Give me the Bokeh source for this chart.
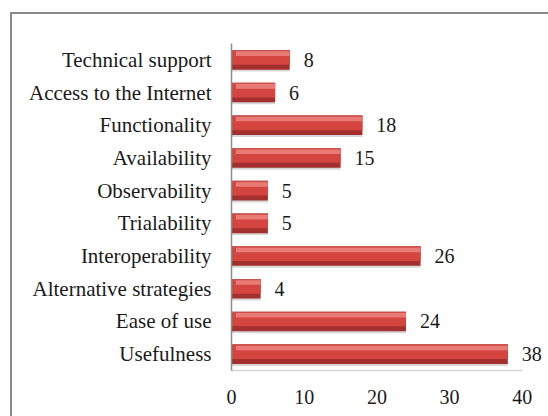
from bokeh.plotting import figure
from bokeh.models import FactorRange, Range1d, ColumnDataSource, FixedTicker
from bokeh.transform import dodge
from bokeh.core.properties import value
from bokeh.embed import file_html
from bokeh.resources import INLINE

# Data (bottom to top)
categories = ["Usefulness", "Ease of use", "Alternative strategies", "Interoperability",
              "Trialability", "Observability", "Availability", "Functionality",
              "Access to the Internet", "Technical support"]
counts = [38, 24, 4, 26, 5, 5, 15, 18, 6, 8]
x_ticks = [0, 10, 20, 30, 40]

FONT = "Liberation Serif"

src = ColumnDataSource(dict(cat=categories, val=counts, lab=[str(v) for v in counts]))

p = figure(width=548, height=416, y_range=FactorRange(*categories), x_range=Range1d(0, 43.6),
           output_backend="svg", toolbar_location=None,
           min_border_left=231, min_border_right=0, min_border_top=43, min_border_bottom=46)

p.outline_line_color = None
p.xgrid.grid_line_color = None
p.ygrid.grid_line_color = None
p.background_fill_color = None
p.border_fill_color = None
g = "linear-gradient(#8a8a8a,#8a8a8a)"
p.styles = {"background": f"{g} 10px 12px / 2px 100% no-repeat, {g} 10px 12px / 100% 2px no-repeat, white"}

# shadow
p.hbar(y=dodge("cat", -0.06, range=p.y_range), left=0, right="val", height=0.6, source=src,
       fill_color="#777777", fill_alpha=0.3, line_color=None)
# base (dark)
p.hbar(y="cat", left=0, right="val", height=0.6, source=src,
       fill_color="#a3302e", line_color=None)
# main red body
p.hbar(y=dodge("cat", 0.07, range=p.y_range), left=0, right="val", height=0.44, source=src,
       fill_color="#d5453f", line_color=None)
# highlight strip
p.hbar(y=dodge("cat", 0.19, range=p.y_range), left=0.6, right="val", height=0.14, source=src,
       fill_color="#e97b77", line_color=None)
# thin top edge
p.hbar(y=dodge("cat", 0.285, range=p.y_range), left=0, right="val", height=0.03, source=src,
       fill_color="#c85450", line_color=None)

p.text(x="val", y="cat", text="lab", source=src, x_offset=14, text_baseline="middle",
       text_align="left", text_font=value(FONT), text_font_size="20px", text_color="#1a1a1a")

p.xaxis.ticker = FixedTicker(ticks=x_ticks)
p.xaxis.bounds = (x_ticks[0], x_ticks[-1])
p.xaxis.major_tick_line_color = None
p.xaxis.minor_tick_line_color = None
p.xaxis.axis_line_color = "#d4d4d4"
p.xaxis.axis_line_width = 1.5
p.xaxis.major_label_text_font = FONT
p.xaxis.major_label_text_font_size = "20px"
p.xaxis.major_label_text_color = "#1a1a1a"
p.xaxis.major_label_standoff = 13

p.yaxis.major_tick_line_color = None
p.yaxis.minor_tick_line_color = None
p.yaxis.axis_line_color = "#8c8c8c"
p.yaxis.axis_line_width = 1.5
p.yaxis.major_label_text_font = FONT
p.yaxis.major_label_text_font_size = "21px"
p.yaxis.major_label_text_color = "#1a1a1a"
p.yaxis.major_label_standoff = 14

open("out.html", "w").write(file_html(p, INLINE))
